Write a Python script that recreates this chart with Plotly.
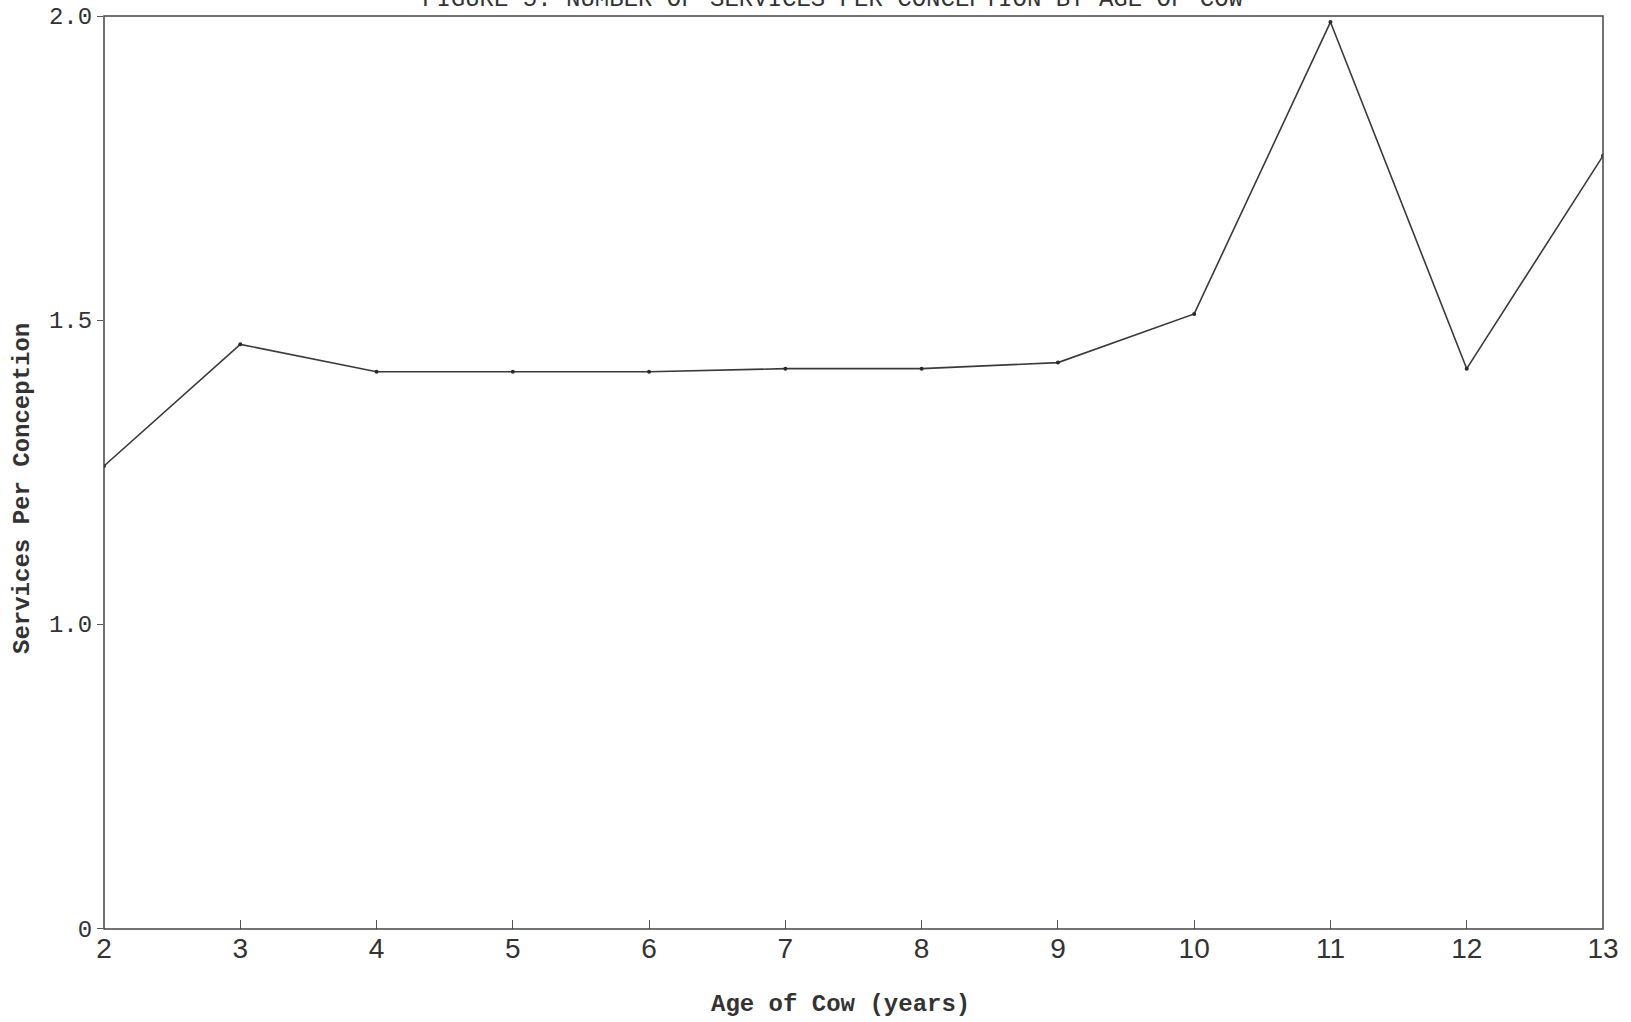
import plotly.graph_objects as go

# ---- data ----
ages = [2, 3, 4, 5, 6, 7, 8, 9, 10, 11, 12, 13]
services = [1.26, 1.46, 1.415, 1.415, 1.415, 1.42, 1.42, 1.43, 1.51, 1.99, 1.42, 1.77]

x_tick_vals = [2, 3, 4, 5, 6, 7, 8, 9, 10, 11, 12, 13]
y_lower_ticks = [0]
y_lower_text = ["0"]
y_upper_ticks = [1.0, 1.5, 2.0]
y_upper_text = ["1.0", "1.5", "2.0"]

title_text = "FIGURE 5. NUMBER OF SERVICES PER CONCEPTION BY AGE OF COW"
x_title = "Age of Cow (years)"
y_title = "Services Per Conception"

MONO = "Courier New, Liberation Mono, monospace"
NARROW = "Liberation Sans Narrow, Liberation Sans, sans-serif"
INK = "#333333"

fig = go.Figure()
# placeholder trace so the lower (0 to 1.0) axis segment is kept
fig.add_trace(go.Scatter(x=[None], y=[None], xaxis="x", yaxis="y",
                         mode="lines", hoverinfo="skip", showlegend=False))
fig.add_trace(go.Scatter(
    x=ages, y=services, xaxis="x", yaxis="y2",
    mode="lines+markers",
    line=dict(color="#3a3a3a", width=1.6),
    marker=dict(size=4, color="#2a2a2a"),
    hoverinfo="x+y", showlegend=False,
))

split = 0.334
fig.update_layout(
    width=1631, height=1022,
    margin=dict(l=104, r=28, t=16, b=93, autoexpand=False),
    paper_bgcolor="white", plot_bgcolor="white",
    showlegend=False,
    xaxis=dict(
        range=[2, 13], tickvals=x_tick_vals, ticks="inside", ticklen=9,
        tickcolor="#555", tickwidth=1.2, automargin=False,
        showgrid=False, zeroline=False, showline=False, anchor="y",
        tickfont=dict(family=NARROW, size=28, color=INK),
    ),
    yaxis=dict(
        domain=[0, split], range=[0, 1], tickvals=y_lower_ticks, ticktext=y_lower_text,
        ticks="outside", ticklen=6, tickcolor="#555", automargin=False,
        showgrid=False, zeroline=False, showline=False, anchor="x",
        tickfont=dict(family=MONO, size=24, color=INK),
    ),
    yaxis2=dict(
        domain=[split, 1], range=[1, 2], tickvals=y_upper_ticks, ticktext=y_upper_text,
        ticks="outside", ticklen=6, tickcolor="#555", automargin=False,
        showgrid=False, zeroline=False, showline=False, anchor="x",
        tickfont=dict(family=MONO, size=24, color=INK),
    ),
    shapes=[dict(type="rect", xref="paper", yref="paper", x0=0, y0=0, x1=1, y1=1,
                 line=dict(color="#444", width=1.5))],
    annotations=[
        dict(text=title_text, xref="paper", yref="paper", x=0.486, y=1,
             xanchor="center", yanchor="middle", yshift=17, showarrow=False,
             font=dict(family=MONO, size=24, color=INK)),
        dict(text="<b>" + x_title + "</b>", xref="paper", yref="paper", x=0.491, y=-0.083,
             xanchor="center", yanchor="middle", showarrow=False,
             font=dict(family=MONO, size=24, color=INK)),
        dict(text="<b>" + y_title + "</b>", xref="paper", yref="paper", x=-0.054, y=0.482,
             xanchor="center", yanchor="middle", textangle=-90, showarrow=False,
             font=dict(family=MONO, size=24, color=INK)),
    ],
)

fig.write_html(
    "out.html",
    config={"displayModeBar": False},
    post_script="document.body.style.margin='0';document.body.style.overflow='hidden';",
)
